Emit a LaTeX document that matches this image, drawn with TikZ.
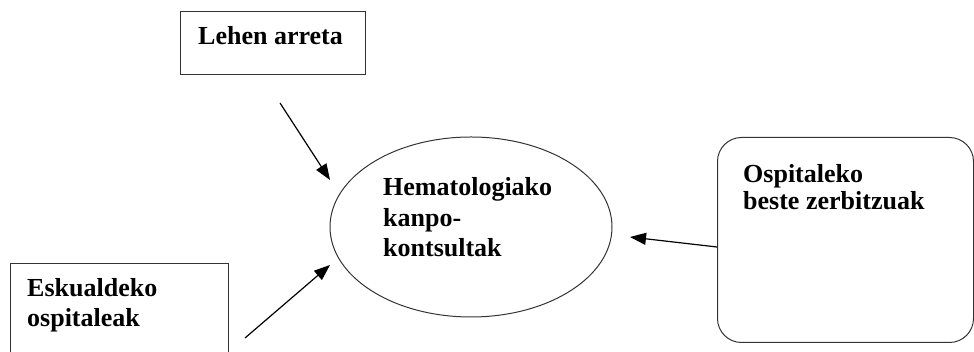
\documentclass[tikz,border=0pt]{standalone}
\usepackage{fontspec}
\setmainfont{Liberation Serif}
\usetikzlibrary{arrows.meta,shapes.geometric}

\tikzset{
    frame/.style={draw=black!80, line width=1pt, inner sep=0pt},
    label text/.style={anchor=base west, inner sep=0pt, align=left,
        font=\bfseries\fontsize{26}{30.5}\selectfont},
    flow/.style={-{Triangle[length=16pt,width=12pt]}, line width=1.2pt}
}

\begin{document}
\begin{tikzpicture}[x=1pt, y=1pt]
    \useasboundingbox (0,0) rectangle (974,352);

    % boxes
    \node[frame, rectangle, minimum width=185pt, minimum height=63pt, anchor=south west] (lehen) at (180,277) {};
    \node[frame, rectangle, minimum width=218pt, minimum height=110pt, anchor=north west] (esk) at (10,89) {};
    \node[frame, ellipse, minimum width=282pt, minimum height=180pt] (hem) at (471,125) {};
    \node[frame, rectangle, rounded corners=24pt, minimum width=256pt, minimum height=205pt, anchor=south west] (osp) at (717,9) {};

    % texts (base = last line)
    \node[label text] (lehentxt) at (198,307) {Lehen arreta};
    \node[label text] (esktxt) at (27,25) {Eskualdeko\\ospitaleak};
    \node[label text] (hemtxt) at (383,95) {Hematologiako\\kanpo-\\kontsultak};
    \node[label text, font=\bfseries\fontsize{26}{27}\selectfont] (osptxt) at (743,142) {Ospitaleko\\beste zerbitzuak};

    % arrow ends
    \coordinate (a1) at (280,249);
    \coordinate (t1) at (330,172);
    \coordinate (a2) at (245,14);
    \coordinate (t2) at (330,87);
    \coordinate (a3) at (osp.west |- 0,105);
    \coordinate (t3) at (630,115);

    \draw[flow] (a1) -- (t1);
    \draw[flow] (a2) -- (t2);
    \draw[flow] (a3) -- (t3);
\end{tikzpicture}
\end{document}
